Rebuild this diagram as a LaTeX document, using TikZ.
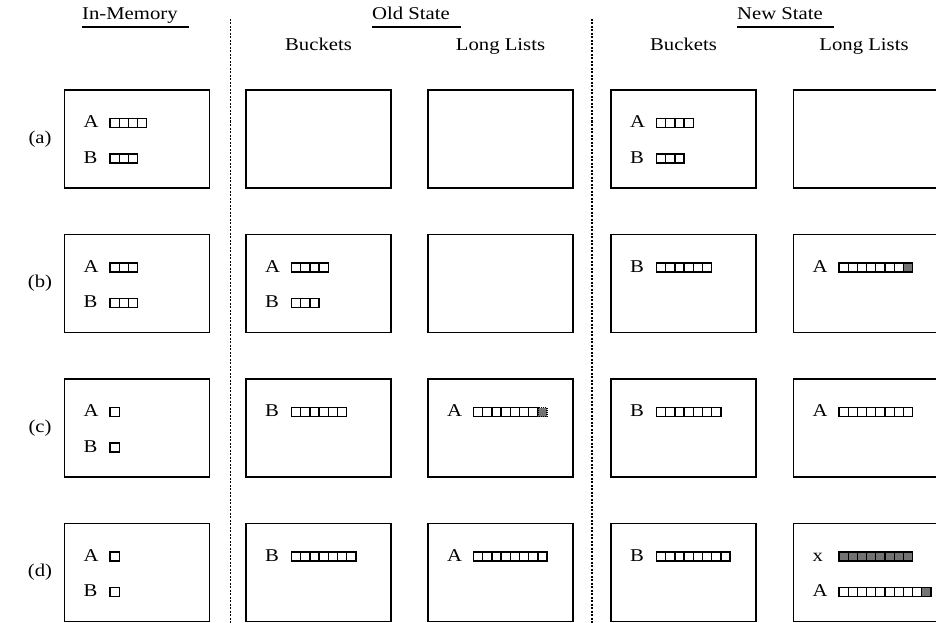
\documentclass[tikz,border=0pt]{standalone}
\usepackage{fontspec}
\usepackage{graphicx}
\setmainfont{Liberation Serif}
\usetikzlibrary{calc}
\newcommand\hs[1]{\scalebox{1.15}[1]{#1}}
\tikzset{
  panel/.style={draw, line width=1.4pt, minimum width=145pt, minimum height=98pt, inner sep=0pt, outer sep=0pt, anchor=north west},
  lbl/.style={font=\fontsize{18}{20}\selectfont, inner sep=0pt, anchor=base west},
  hdr/.style={font=\fontsize{18}{20}\selectfont, inner sep=0pt, anchor=base},
  cellw/.style={draw, line width=1.3pt, fill=white},
  cellg/.style={draw, line width=1.3pt, fill=black!55},
  cellgd/.style={draw, line width=1.3pt, dash pattern=on 1pt off 1pt, fill=black!55},
  sepline/.style={line width=1.5pt, dash pattern=on 2pt off 1.5pt},
  uline/.style={line width=1.1pt},
}
% box, row (1/2), letter, white count, gray count, gray style
\newcommand\putrow[6]{%
  \begin{scope}[shift={(#1.north west)}]
    \ifnum#2=1 \def\rowbase{37.5}\else\def\rowbase{73}\fi
    \node[lbl] (#1-#3) at (19,\rowbase) {\hs{#3}};
    \ifnum#4>0 \foreach \i in {1,...,#4}{\draw[cellw] ({45.5+9.2*(\i-1)},\rowbase-9) rectangle ++(9.2,9);}\fi
    \ifnum#5>0 \foreach \j in {1,...,#5}{\draw[#6] ({45.5+9.2*(#4+\j-1)},\rowbase-9) rectangle ++(9.2,9);}\fi
  \end{scope}}
\begin{document}
\begin{tikzpicture}[x=1pt,y=-1pt]
\useasboundingbox (0,0) rectangle (936,623);
% headers
\node[lbl] (h-im) at (82,20) {\hs{In-Memory}};
\node[lbl] (h-old) at (372,20) {\hs{Old State}};
\node[lbl] (h-new) at (737,20) {\hs{New State}};
\draw[uline] ($(h-im.base west)+(0,7)$) -- ($(h-im.base east)+(11,7)$);
\draw[uline] ($(h-old.base west)+(0,7)$) -- ($(h-old.base east)+(11,7)$);
\draw[uline] ($(h-new.base west)+(0,7)$) -- ($(h-new.base east)+(11,7)$);
\node[hdr] (s-ob) at (318.5,51) {\hs{Buckets}};
\node[hdr] (s-ol) at (500.5,51) {\hs{Long Lists}};
\node[hdr] (s-nb) at (683.5,51) {\hs{Buckets}};
\node[hdr] (s-nl) at (864,51) {\hs{Long Lists}};
% separators
\coordinate (s1t) at (230.5,19); \coordinate (s1b) at (230.5,623);
\coordinate (s2t) at (592,19); \coordinate (s2b) at (592,623);
\draw[sepline] (s1t) -- (s1b);
\draw[sepline] (s2t) -- (s2b);
% row labels
\node[hdr,anchor=center] (r-a) at (40,139) {\hs{(a)}};
\node[hdr,anchor=center] (r-b) at (40,283.5) {\hs{(b)}};
\node[hdr,anchor=center] (r-c) at (40,428) {\hs{(c)}};
\node[hdr,anchor=center] (r-d) at (40,572.5) {\hs{(d)}};
% panels
\foreach \r/\t in {a/90,b/234.5,c/379,d/523.5}{
  \foreach \c/\l in {im/64.5,ob/246,ol/428,nb/611,nl/793.5}{
    \node[panel] (\r-\c) at (\l,\t) {};
  }
}
% row (a)
\putrow{a-im}{1}{A}{4}{0}{cellg}
\putrow{a-im}{2}{B}{3}{0}{cellg}
\putrow{a-nb}{1}{A}{4}{0}{cellg}
\putrow{a-nb}{2}{B}{3}{0}{cellg}
% row (b)
\putrow{b-im}{1}{A}{3}{0}{cellg}
\putrow{b-im}{2}{B}{3}{0}{cellg}
\putrow{b-ob}{1}{A}{4}{0}{cellg}
\putrow{b-ob}{2}{B}{3}{0}{cellg}
\putrow{b-nb}{1}{B}{6}{0}{cellg}
\putrow{b-nl}{1}{A}{7}{1}{cellg}
% row (c)
\putrow{c-im}{1}{A}{1}{0}{cellg}
\putrow{c-im}{2}{B}{1}{0}{cellg}
\putrow{c-ob}{1}{B}{6}{0}{cellg}
\putrow{c-ol}{1}{A}{7}{1}{cellgd}
\putrow{c-nb}{1}{B}{7}{0}{cellg}
\putrow{c-nl}{1}{A}{8}{0}{cellg}
% row (d)
\putrow{d-im}{1}{A}{1}{0}{cellg}
\putrow{d-im}{2}{B}{1}{0}{cellg}
\putrow{d-ob}{1}{B}{7}{0}{cellg}
\putrow{d-ol}{1}{A}{8}{0}{cellg}
\putrow{d-nb}{1}{B}{8}{0}{cellg}
\putrow{d-nl}{1}{x}{0}{8}{cellg}
\putrow{d-nl}{2}{A}{9}{1}{cellg}
\end{tikzpicture}
\end{document}
